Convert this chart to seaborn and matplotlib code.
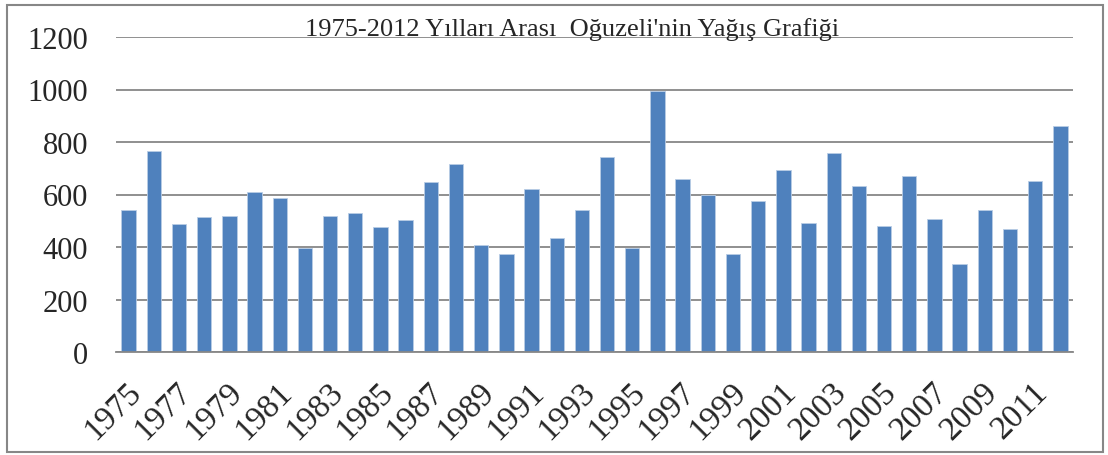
import matplotlib
matplotlib.use('Agg')
import matplotlib.pyplot as plt
import matplotlib.transforms as mtransforms
from matplotlib.patches import Rectangle
import pandas as pd
import seaborn as sns

# yıllık yağış verisi (mm)
years = list(range(1975, 2013))
rainfall = [542, 765, 488, 515, 517, 609, 585, 397, 520, 528,
            477, 502, 646, 715, 407, 374, 620, 436, 542, 742,
            397, 993, 659, 600, 374, 576, 694, 492, 760, 632,
            481, 671, 507, 334, 542, 468, 652, 862]
title_text = "1975-2012 Yılları Arası  Oğuzeli'nin Yağış Grafiği"
y_ticks = [0, 200, 400, 600, 800, 1000, 1200]

df = pd.DataFrame({'Yil': [str(y) for y in years], 'Yagis': rainfall})

sns.set_style('white')
plt.rcParams['font.family'] = ['Liberation Serif', 'DejaVu Serif']

fig = plt.figure(figsize=(11.08, 4.56), dpi=100)
ax = fig.add_axes([116 / 1108, 1 - 353 / 456, (1073 - 116) / 1108, (353 - 38) / 456])

sns.barplot(data=df, x='Yil', y='Yagis', color='#4F81BD', width=0.57,
            edgecolor='#B9CDE5', linewidth=0.6, saturation=1, ax=ax)

ax.set_ylim(0, 1200)
ax.set_xlim(-0.5, len(years) - 0.5)
ax.set_yticks(y_ticks)
ax.set_yticklabels([str(t) for t in y_ticks], fontsize=22)
ax.yaxis.grid(True, color='#878787', linewidth=1.3)
ax.set_axisbelow(True)
for s in ['left', 'top', 'right']:
    ax.spines[s].set_visible(False)
ax.spines['bottom'].set_color('#878787')
ax.spines['bottom'].set_linewidth(1.3)
ax.tick_params(axis='y', length=0, pad=20)
ax.tick_params(axis='x', length=0, pad=25)

tick_pos = list(range(0, len(years), 2))
ax.set_xticks(tick_pos)
ax.set_xticklabels([str(years[i]) for i in tick_pos], fontsize=24,
                   rotation=45, ha='right', va='center', rotation_mode='anchor')
offset = mtransforms.ScaledTranslation(8 / 100, 0, fig.dpi_scale_trans)
for lab in ax.get_xticklabels():
    lab.set_transform(lab.get_transform() + offset)

ax.set_xlabel('')
ax.set_ylabel('')

fig.text(572 / 1108, 1 - 36 / 456, title_text, ha='center', va='baseline', fontsize=19)

# grafiğin çevresindeki çerçeve
fig.patches.append(Rectangle((7 / 1108, 3 / 456), 1096 / 1108, 447 / 456,
                             transform=fig.transFigure, fill=False,
                             edgecolor='#878787', linewidth=1.5))

fig.savefig('out.png', dpi=100)
